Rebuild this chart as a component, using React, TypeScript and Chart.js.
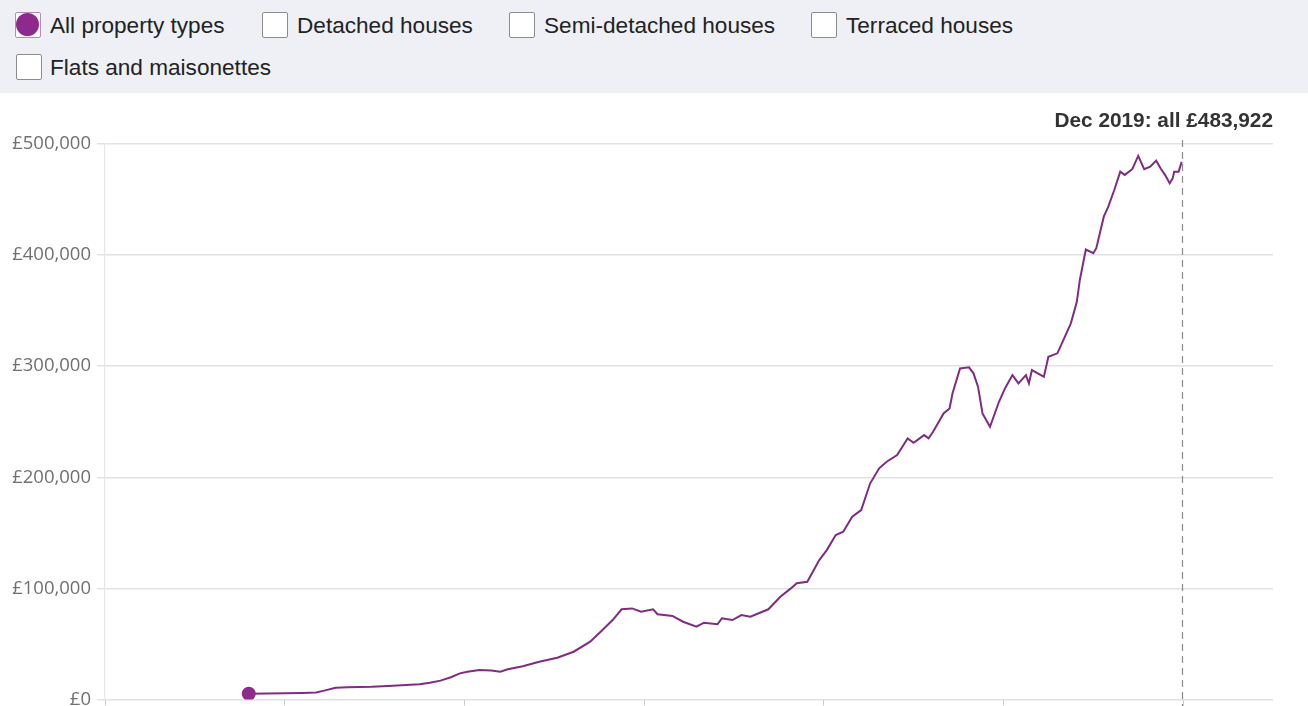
import React, { useEffect, useRef } from "react";
import { Chart, registerables } from "chart.js";

Chart.register(...registerables);

const months: string[] = [
  "1968-01","1969-01","1970-01","1971-01","1971-10","1972-04","1972-11","1973-07","1974-11","1975-10",
  "1976-10","1977-07","1978-02","1978-09","1979-04","1979-10","1980-03","1980-11","1981-07","1982-01",
  "1982-06","1983-04","1984-03","1985-03","1986-02","1987-01","1987-08","1988-04","1988-10","1989-05",
  "1989-11","1990-07","1990-10","1991-08","1992-03","1992-12","1993-05","1994-02","1994-05","1994-12",
  "1995-06","1995-12","1996-12","1997-08","1998-03","1998-07","1999-02","1999-10","2000-03","2000-09",
  "2001-02","2001-08","2002-02","2002-08","2003-02","2003-07","2004-02","2004-09","2005-01","2005-08",
  "2005-11","2006-02","2006-09","2007-01","2007-03","2007-08","2008-02","2008-05","2008-08","2008-11",
  "2009-04","2009-10","2010-02","2010-07","2010-11","2011-04","2011-06","2011-08","2012-02","2012-04",
  "2012-07","2013-01","2013-04","2013-10","2014-02","2014-04","2014-08","2015-01","2015-03","2015-08",
  "2015-11","2016-03","2016-07","2016-10","2017-03","2017-07","2017-11","2018-03","2018-07","2018-10",
  "2019-01","2019-04","2019-06","2019-07","2019-10","2019-12"
];

const prices: number[] = [
  5200, 5400, 5700, 5900, 6300, 8200, 10500, 11000, 11500, 12200,
  13000, 13800, 15100, 17000, 20000, 23500, 25000, 26500, 26200, 25000,
  27200, 30000, 34000, 37600, 43000, 52000, 61000, 71500, 81200, 82000,
  79000, 81200, 76700, 75200, 70000, 65500, 69100, 67700, 73100, 71500,
  76000, 74500, 81200, 92500, 100000, 104600, 106000, 125500, 134500, 148000,
  151000, 164500, 170500, 194600, 208100, 214000, 220000, 235000, 231000, 238000,
  235000, 241000, 257500, 262000, 275600, 298000, 299000, 293600, 281600, 257500,
  245500, 268000, 280000, 292000, 284500, 292000, 284500, 296500, 292000, 290500,
  308500, 311600, 320600, 338600, 358000, 377600, 405000, 401700, 406200, 434600,
  443600, 458600, 475100, 472200, 477300, 489300, 477300, 479600, 485000, 478000,
  472000, 464600, 469000, 475100, 475100, 483922
];

const yTicks: number[] = [0, 100000, 200000, 300000, 400000, 500000];
const xTickYears: number[] = [1960, 1970, 1980, 1990, 2000, 2010, 2020];
const legendItems: string[] = [
  "All property types",
  "Detached houses",
  "Semi-detached houses",
  "Terraced houses",
  "Flats and maisonettes",
];
const annotationText = "Dec 2019: all £483,922";

const LINE_COLOR = "#7f2c82";

function toYear(m: string): number {
  const [y, mo] = m.split("-").map(Number);
  return y + (mo - 1) / 12;
}

const fmt = (v: number) => "£" + v.toLocaleString("en-GB");

const legendPos = [
  { box: [15, 12], text: 50 },
  { box: [262, 12], text: 297 },
  { box: [509, 12], text: 544 },
  { box: [811, 12], text: 846 },
  { box: [16, 54], text: 50 },
];

export default function App() {
  const ref = useRef<HTMLCanvasElement>(null);

  useEffect(() => {
    if (!ref.current) return;
    const data = months.map((m, i) => ({ x: toYear(m), y: prices[i] }));

    const overlay = {
      id: "overlay",
      afterDatasetsDraw(chart: any) {
        const { ctx, chartArea, scales } = chart;
        const last = data[data.length - 1];
        const x = scales.x.getPixelForValue(last.x);
        ctx.save();
        ctx.strokeStyle = "#8a8a8a";
        ctx.lineWidth = 1.2;
        ctx.setLineDash([7, 5]);
        ctx.beginPath();
        ctx.moveTo(Math.round(x) + 0.5, chartArea.top - 4);
        ctx.lineTo(Math.round(x) + 0.5, chartArea.bottom + 10);
        ctx.stroke();
        ctx.setLineDash([]);
        ctx.fillStyle = "#333333";
        ctx.font = "bold 20.8px 'Liberation Sans', Arial, sans-serif";
        ctx.textAlign = "right";
        ctx.textBaseline = "middle";
        ctx.fillText(annotationText, chartArea.right, chartArea.top - 23);
        ctx.restore();
      },
    };

    const chart = new Chart(ref.current, {
      type: "line",
      data: {
        datasets: [
          {
            label: legendItems[0],
            data,
            borderColor: LINE_COLOR,
            backgroundColor: "#8e2a8e",
            borderWidth: 2,
            tension: 0,
            pointRadius: (c: any) => (c.dataIndex === 0 ? 7 : 0),
            pointHoverRadius: 0,
            pointBorderWidth: 0,
          },
        ],
      },
      options: {
        animation: false,
        responsive: false,
        maintainAspectRatio: false,
        events: [],
        layout: { padding: { top: 51, right: 35, left: 0, bottom: 0 } },
        plugins: { legend: { display: false }, tooltip: { enabled: false } },
        scales: {
          x: {
            type: "linear",
            min: 1960,
            max: 2025,
            afterBuildTicks: (s: any) => {
              s.ticks = xTickYears.map((v) => ({ value: v }));
            },
            afterFit: (s: any) => {
              s.height = 53.5;
            },
            grid: {
              drawOnChartArea: false,
              drawTicks: true,
              tickLength: 6,
              color: "#c8c8c8",
            },
            border: { display: false },
            ticks: {
              callback: (v: any) => String(v),
              color: "#757575",
              font: { family: "'Open Sans', sans-serif", size: 17 },
            },
          },
          y: {
            min: 0,
            max: 500000,
            afterBuildTicks: (s: any) => {
              s.ticks = yTicks.map((v) => ({ value: v }));
            },
            afterFit: (s: any) => {
              s.width = 105;
            },
            grid: {
              color: "#e2e2e2",
              lineWidth: 1.5,
              tickLength: 8,
            },
            border: { display: true, color: "#e6e6e6", width: 1.2 },
            ticks: {
              padding: 6,
              color: "#707070",
              font: { family: "'Open Sans', sans-serif", size: 18.5 },
              callback: (v: any) => fmt(Number(v)),
            },
          },
        },
      },
      plugins: [overlay],
    });
    return () => chart.destroy();
  }, []);

  return (
    <div
      style={{
        position: "fixed",
        left: 0,
        top: 0,
        width: 1308,
        height: 706,
        overflow: "hidden",
        background: "#ffffff",
      }}
    >
      <div
        style={{
          position: "absolute",
          left: 0,
          top: 0,
          width: 1308,
          height: 93,
          background: "#eef0f5",
          fontFamily: "'Liberation Sans', Arial, sans-serif",
          fontSize: 22.6,
          color: "#222",
        }}
      >
        {legendItems.map((t, i) => {
          const p = legendPos[i];
          return (
            <React.Fragment key={t}>
              <div
                style={{
                  position: "absolute",
                  left: p.box[0],
                  top: p.box[1],
                  width: 26,
                  height: 26,
                  boxSizing: "border-box",
                  border: i === 0 ? "1.5px solid #b58bb6" : "1.5px solid #8c8c8c",
                  borderRadius: 2,
                  background: "#ffffff",
                }}
              >
                {i === 0 && (
                  <div
                    style={{
                      position: "absolute",
                      left: 0,
                      top: 0,
                      width: 23,
                      height: 23,
                      borderRadius: "50%",
                      background: "#8e2a8e",
                    }}
                  />
                )}
              </div>
              <div
                style={{
                  position: "absolute",
                  left: p.text,
                  top: p.box[1] + 14,
                  transform: "translateY(-50%)",
                  whiteSpace: "nowrap",
                  lineHeight: "26px",
                }}
              >
                {t}
              </div>
            </React.Fragment>
          );
        })}
      </div>
      <canvas
        ref={ref}
        width={1308}
        height={660}
        style={{ position: "absolute", left: 0, top: 93, width: 1308, height: 660 }}
      />
    </div>
  );
}
